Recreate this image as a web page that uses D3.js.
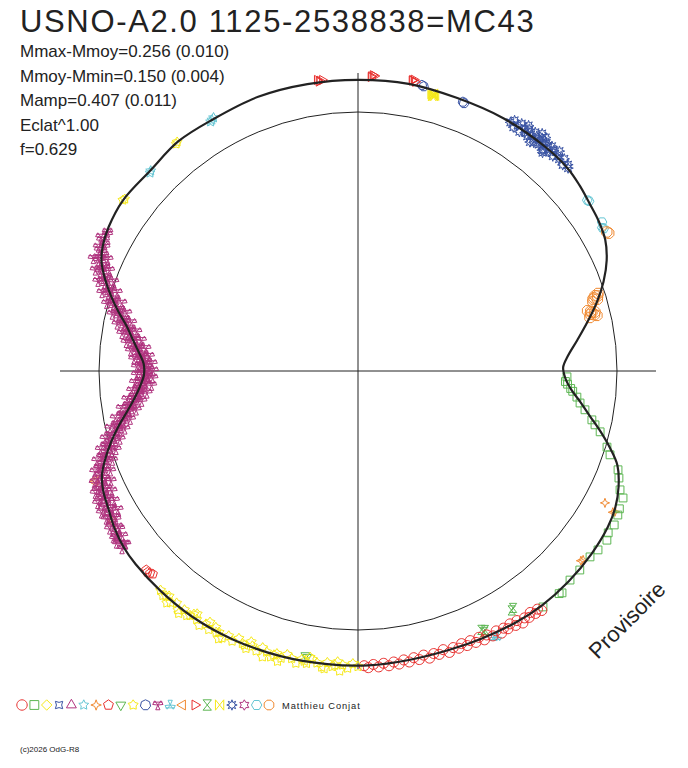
<!DOCTYPE html>
<html><head><meta charset="utf-8">
<script src="https://cdn.jsdelivr.net/npm/d3@7"></script>
<style>html,body{margin:0;padding:0;background:#fff}svg{display:block}</style>
</head><body>
<script>
// ---- DATA (phase in degrees, delta magnitude relative to mean; negative = brighter) ----
const title = "USNO-A2.0 1125-2538838=MC43";
const statLines = ["Mmax-Mmoy=0.256 (0.010)","Mmoy-Mmin=0.150 (0.004)","Mamp=0.407 (0.011)","Eclat^1.00","f=0.629"];
const author = "Matthieu Conjat";
const copyright = "(c)2026 OdG-R8";
const stamp = "Provisoire";
const palette = ["#e8302e","#5db653","#f6e91a","#3a54a4","#b0347f","#66c6d4","#f08a32"];

const fitCurve = [[0,-0.141],[10,-0.143],[20,-0.138],[30,-0.143],[40,-0.145],[46,-0.143],[50,-0.132],[54,-0.118],[58,-0.108],[62,-0.092],[66,-0.058],[70,-0.010],[74,0.047],[78,0.108],[82,0.165],[86,0.214],[89,0.236],[92,0.226],[95,0.197],[98,0.150],[101,0.100],[104,0.040],[107,-0.020],[110,-0.075],[114,-0.115],[118,-0.142],[122,-0.156],[128,-0.165],[135,-0.170],[142,-0.171],[148,-0.166],[155,-0.157],[162,-0.151],[170,-0.151],[178,-0.156],[186,-0.157],[195,-0.160],[205,-0.163],[214,-0.164],[222,-0.160],[229,-0.156],[233,-0.150],[237,-0.136],[241,-0.115],[245,-0.098],[248,-0.075],[251,-0.035],[254,0.010],[257,0.058],[260,0.107],[263,0.148],[266,0.178],[269,0.197],[272,0.195],[275,0.170],[278,0.138],[281,0.102],[284,0.052],[287,0.002],[290,-0.045],[293,-0.086],[296,-0.110],[300,-0.127],[306,-0.138],[314,-0.130],[322,-0.143],[330,-0.138],[340,-0.144],[350,-0.142]];

const redCircles = [[142.5,-0.188],[143,-0.172],[143.8,-0.182],[144.5,-0.165],[145.2,-0.180],[146,-0.170],[146.8,-0.185],[147.5,-0.162],[148.2,-0.177],[149,-0.158],[149.8,-0.172],[150.5,-0.160],[151.3,-0.175],[152,-0.155],[153,-0.168],[154,-0.152],[154.8,-0.167],[155.6,-0.147],[156.5,-0.162],[157.4,-0.145],[158.3,-0.160],[159.2,-0.143],[160,-0.158],[161,-0.147],[162,-0.162],[163,-0.142],[164,-0.157],[165,-0.147],[166,-0.162],[167,-0.143],[168,-0.158],[169,-0.145],[170,-0.160],[171,-0.147],[172,-0.162],[173,-0.150],[174,-0.164],[175,-0.151],[176,-0.165],[177,-0.153],[178,-0.166],[178.8,-0.157]];
const greenSquares = [[91.6,0.219],[92.9,0.225],[93.6,0.215],[94.7,0.200],[95.4,0.190],[96.8,0.169],[98.2,0.152],[99.7,0.126],[101.8,0.088],[102.8,0.070],[104.1,0.041],[107,-0.006],[108.4,-0.029],[110.8,-0.084],[112.3,-0.101],[114.4,-0.126],[115.6,-0.153],[117.8,-0.160],[119,-0.167],[121,-0.175],[122.9,-0.171],[124.2,-0.184],[126.7,-0.177],[128.7,-0.168],[131.9,-0.171],[134.6,-0.170],[137.4,-0.186],[137.9,-0.180],[141.9,-0.179]];
const orangeStars4 = [[118.1,-0.092],[118.7,-0.149],[119,-0.142],[130,-0.153],[130.4,-0.148]];
const redPentagons = [[225.8,-0.136],[226.3,-0.142],[225.3,-0.130],[226.8,-0.138]];
const greenTriDown = [[190.1,-0.138],[190.5,-0.132]];
const yellowStars = [[180,-0.160],[181,-0.148],[182,-0.168],[183,-0.155],[184,-0.143],[185,-0.165],[186,-0.150],[187,-0.172],[188,-0.157],[189,-0.145],[190,-0.166],[191,-0.152],[192,-0.174],[193,-0.158],[194,-0.146],[195,-0.168],[196,-0.154],[197,-0.175],[198,-0.160],[199,-0.148],[200,-0.170],[201,-0.156],[202,-0.176],[203,-0.162],[204,-0.148],[205,-0.171],[206,-0.157],[207,-0.178],[208,-0.162],[209,-0.150],[210,-0.173],[211,-0.159],[212,-0.179],[213,-0.163],[214,-0.151],[215,-0.173],[216,-0.159],[217,-0.176],[218,-0.156],[219,-0.170],[220,-0.153],[221,-0.168],[222,-0.158],[184.5,-0.158],[190.5,-0.158],[196.5,-0.163],[202.5,-0.165],[208.5,-0.168],[214.5,-0.165],[220.5,-0.161],
  [183.5,-0.182],[189.5,-0.137],[195.5,-0.185],[201.5,-0.141],[207.5,-0.188],[213.5,-0.142],[219.5,-0.182],[186.5,-0.178],[198.5,-0.186],[210.5,-0.143],[216.5,-0.186]];
const yellowStarsTop = [[321.7,-0.144],[321.3,-0.140],[306,-0.139],[306.4,-0.135]];
const blueHeptagons = [[12.6,-0.149],[13,-0.145],[21.3,-0.131],[21.6,-0.127]];
const magentaTrefoils = [[233,-0.160],[233.3,-0.135],[234,-0.150],[235,-0.125],[235.4,-0.160],[236,-0.145],[237,-0.120],[238,-0.140],[239,-0.105],[239.4,-0.135],[240,-0.125],[241,-0.100],[242,-0.125],[243,-0.090],[243.4,-0.115],[244,-0.105],[245,-0.080],[245.4,-0.110],[246,-0.095],[247,-0.070],[248,-0.085],[249,-0.050],[249.4,-0.075],[250,-0.055],[251,-0.020],[251.4,-0.045],[252,-0.025],[253,0.010],[253.4,-0.015],[254,0.005],[255,0.040],[255.4,0.015],[256,0.050],[257,0.045],[257.4,0.070],[258,0.080],[259,0.100],[259.4,0.080],[260,0.115],[261,0.110],[261.4,0.135],[262,0.145],[263,0.140],[263.4,0.165],[264,0.170],[265,0.165],[265.4,0.185],[266,0.180],[267,0.200],[267.4,0.180],[268,0.205],[269,0.190],[269.4,0.210],[270,0.200],[271,0.210],[271.4,0.188],[272,0.200],[273,0.180],[273.4,0.198],[274,0.185],[275,0.165],[276,0.170],[277,0.140],[278,0.150],[279,0.115],[280,0.125],[281,0.090],[282,0.095],[283,0.060],[284,0.065],[285,0.025],[286,0.030],[287,-0.010],[288,0.000],[289,-0.040],[290,-0.030],[291,-0.075],[292,-0.060],[293,-0.100],[294,-0.085],[295,-0.115],[296,-0.100],[297,-0.125],[298.5,-0.115],
  [233.5,-0.140],[234.5,-0.165],[235.5,-0.150],[236.5,-0.118],[237.5,-0.155],[238.5,-0.110],[239.5,-0.145],[240.5,-0.108],[241.5,-0.135],[242.5,-0.095],[243.5,-0.128],[244.5,-0.088],[245.5,-0.118],[246.5,-0.070],[247.5,-0.100],[248.5,-0.055],[249.5,-0.078],[250.5,-0.030],[251.5,-0.050],[252.5,0.000],[253.5,-0.020],[254.5,0.030],[255.5,0.010],[256.5,0.065],[257.5,0.050],[258.5,0.100],[259.5,0.085],[260.5,0.130],[261.5,0.115],[262.5,0.160],[263.5,0.145],[264.5,0.185],[265.5,0.168],[266.5,0.205],[267.5,0.178],[268.5,0.215],[269.5,0.185],[270.5,0.218],[271.5,0.180],[272.5,0.210],[273.5,0.170],[274.5,0.192],[275.5,0.150],[276.5,0.172],[277.5,0.128],[278.5,0.148],[279.5,0.105],[280.5,0.122],[281.5,0.078],[282.5,0.090],[283.5,0.045],[284.5,0.058],[285.5,0.012],[286.5,0.025],[287.5,-0.020],[288.5,-0.008],[289.5,-0.052],[290.5,-0.040],[291.5,-0.082],[292.5,-0.068],[293.5,-0.108],[294.5,-0.090],[295.5,-0.125],[296.5,-0.105],[297.5,-0.135],[299,-0.120],
  [240,-0.080],[241,-0.150],[242,-0.075],[243,-0.145],[244,-0.065],[245,-0.135],[246,-0.050],[247,-0.120],[248,-0.035],[249,-0.100],[250,-0.010],[251,-0.075],[252,0.020],[253,-0.045],[254,0.050],[255,-0.012],[256,0.082],[257,0.020],[258,0.115],[259,0.052],[260,0.148],[261,0.085],[262,0.178],[263,0.115],[264,0.205],[265,0.140],[266,0.228],[267,0.155],[268,0.235],[269,0.165],[270,0.238],[271,0.165],[272,0.232],[273,0.152],[274,0.218],[275,0.135],[276,0.200],[277,0.112],[278,0.176],[279,0.088],[280,0.150],[281,0.060],[282,0.120],[283,0.030],[284,0.090],[285,-0.005],[286,0.058],[287,-0.038],[288,0.025],[289,-0.070],[290,-0.005],[291,-0.098],[292,-0.040],[293,-0.125],[294,-0.065]];
const cyanTrefoils = [[152.4,-0.180],[153,-0.175]];
const orangeTriLeft = [[247.1,-0.116],[247.5,-0.110],[238.2,-0.129],[238.6,-0.124]];
const redTriRight = [[352.5,-0.148],[352,-0.153],[353,-0.150],[352.3,-0.145],[2.6,-0.158],[2.9,-0.163],[2.5,-0.155],[3.2,-0.160],[10.5,-0.160],[10.9,-0.165],[11.2,-0.157],[10.6,-0.162]];
const greenHourglass = [[153.9,-0.129],[154.5,-0.122],[154.2,-0.135],[146.8,-0.106],[147.3,-0.112]];
const yellowBowties = [[15.2,-0.120],[15.4,-0.115],[14.9,-0.122],[15.6,-0.118],[15.1,-0.113],[15.3,-0.125]];
const blueStars8 = [[31.5,-0.143],[32,-0.160],[32.5,-0.132],[33,-0.150],[33.5,-0.165],[34,-0.130],[34.5,-0.155],[35,-0.140],[35.4,-0.163],[35.8,-0.133],[36.2,-0.150],[36.6,-0.168],[37,-0.138],[37.3,-0.158],[37.6,-0.128],[38,-0.150],[38.3,-0.166],[38.6,-0.135],[39,-0.156],[39.3,-0.145],[39.6,-0.162],[40,-0.132],[40.4,-0.152],[40.8,-0.166],[41.2,-0.140],[41.6,-0.158],[42.2,-0.136],[42.8,-0.154],[43.5,-0.145],[44.2,-0.162],[44.8,-0.138],[45.5,-0.155],[46,-0.145],
  [34.8,-0.175],[36.9,-0.120],[38.8,-0.178],[40.2,-0.118],[42.5,-0.172],[37.8,-0.182],[39.8,-0.125]];
const cyanStars5 = [[329.8,-0.138],[330.3,-0.143],[329.4,-0.134],[313.6,-0.124],[314,-0.128]];
const cyanHexagons = [[53.3,-0.118],[53.7,-0.122],[58.6,-0.118],[59.6,-0.106],[59.9,-0.110]];
const orangeOctagons = [[60.8,-0.114],[61.2,-0.119],[72.4,0.045],[72.8,0.052],[73.3,0.040],[73,0.058],[72.6,0.035],[75.9,0.078],[76.3,0.087],[76.6,0.070],[75.6,0.082],[77,0.092],[76,0.065],[73.6,0.062],[72.1,0.030],[76.9,0.060],[75.3,0.095]];

// series: [symbolIndex, data, markerHalfSize]
const series = [
  [6, orangeStars4, 4.6],[15, greenHourglass, 4.6],[8, greenTriDown, 4.6],[12, cyanTrefoils, 4.6],
  [1, greenSquares, 4.6],[0, redCircles, 5],[9, yellowStars, 5.2],[7, redPentagons, 4.8],[13, orangeTriLeft, 4.8],
  [11, magentaTrefoils, 5.4],[17, blueStars8, 5.2],[10, blueHeptagons, 4.8],[16, yellowBowties, 4.8],
  [14, redTriRight, 4.8],[19, cyanHexagons, 4.8],[20, orangeOctagons, 5.6],[5, cyanStars5, 5.2],[9, yellowStarsTop, 5]
];

// ---- DRAWING ----
const W = 688, H = 768, cx = 358, cy = 371;
const svg = d3.select("body").append("svg").attr("width", W).attr("height", H);
const rScale = d3.scaleLinear().domain([0, -0.2]).range([259, 304.6]);
const aScale = d3.scaleLinear().domain([0, 360]).range([0, 2 * Math.PI]);
const font = "'Liberation Sans', Arial, sans-serif";
const ink = "#222";

function pt(a, r) { return [r * Math.sin(a), -r * Math.cos(a)]; }
function polyPts(n, s, rotDeg, inner) {
  const pts = [];
  const rot = rotDeg * Math.PI / 180;
  const m = inner ? n * 2 : n;
  for (let i = 0; i < m; i++) {
    const a = rot + i * 2 * Math.PI / m;
    const rr = inner ? (i % 2 ? inner : s) : s;
    pts.push(pt(a, rr));
  }
  return "M" + pts.map(p => p[0].toFixed(2) + "," + p[1].toFixed(2)).join("L") + "Z";
}
function wedges(dirs, s) {
  return dirs.map(d => {
    const a = d * Math.PI / 180, w = 0.42;
    const p1 = pt(a - w, s), p2 = pt(a + w, s);
    return `M0,0L${p1[0].toFixed(2)},${p1[1].toFixed(2)}L${p2[0].toFixed(2)},${p2[1].toFixed(2)}Z`;
  }).join("");
}
function symbolPath(k, s) {
  switch (k) {
    case 0: return polyPts(24, s, 0);
    case 1: { const h = s * 0.85; return `M${-h},${-h}L${h},${-h}L${h},${h}L${-h},${h}Z`; }
    case 2: return polyPts(4, s, 0);
    case 3: return polyPts(4, s, 45, s * 0.5);
    case 4: return polyPts(3, s * 1.1, 0);
    case 5: return polyPts(5, s, 0, s * 0.5);
    case 6: return polyPts(4, s, 0, s * 0.38);
    case 7: return polyPts(5, s, 0);
    case 8: return polyPts(3, s * 1.1, 180);
    case 9: return polyPts(5, s, 0, s * 0.6);
    case 10: return polyPts(7, s, 0);
    case 11: return wedges([-60, 60, 180], s) + `M${-s * 0.9},${-s * 0.55}L${s * 0.9},${-s * 0.55}`;
    case 12: return wedges([0, 120, 240], s) + `M${-s * 0.9},${s * 0.55}L${s * 0.9},${s * 0.55}`;
    case 13: return polyPts(3, s * 1.1, -90);
    case 14: return polyPts(3, s * 1.1, 90);
    case 15: return `M${-s * 0.8},${-s}L${s * 0.8},${-s}L${-s * 0.8},${s}L${s * 0.8},${s}Z`;
    case 16: return `M${-s * 0.8},${-s}L${s * 0.8},${s}L${s * 0.8},${-s}L${-s * 0.8},${s}Z`;
    case 17: return polyPts(8, s, 0, s * 0.5);
    case 18: return polyPts(6, s, 0, s * 0.58);
    case 19: return polyPts(6, s, 30);
    case 20: return polyPts(8, s, 22.5);
  }
}
const colorOf = k => palette[k % palette.length];

// title & stats
svg.append("text").attr("x", 20).attr("y", 32).attr("font-family", font).attr("font-size", 31)
  .attr("letter-spacing", 1.65).attr("fill", ink).text(title);
svg.selectAll("text.stat").data(statLines).enter().append("text").attr("class", "stat")
  .attr("x", 20).attr("y", (d, i) => 57 + i * 24.6).attr("font-family", font).attr("font-size", 17)
  .attr("fill", ink).text(d => d);

const g = svg.append("g").attr("transform", `translate(${cx},${cy})`);
const axisR = rScale(d3.min(fitCurve, d => d[1]));
g.append("line").attr("x1", -axisR).attr("x2", axisR).attr("y1", 0).attr("y2", 0).attr("stroke", ink).attr("stroke-width", 1);
g.append("line").attr("x1", 0).attr("x2", 0).attr("y1", -axisR).attr("y2", axisR).attr("stroke", ink).attr("stroke-width", 1);
g.append("circle").attr("r", rScale(0)).attr("fill", "none").attr("stroke", ink).attr("stroke-width", 1);

// observations
series.forEach(([k, data, s]) => {
  g.append("g").selectAll("path").data(data).enter().append("path")
    .attr("d", symbolPath(k, s))
    .attr("transform", d => { const p = pt(aScale(d[0]), rScale(d[1])); return `translate(${p[0]},${p[1]})`; })
    .attr("fill", "none").attr("stroke", colorOf(k)).attr("stroke-width", 1);
});

// fitted curve
const line = d3.lineRadial().angle(d => aScale(d[0])).radius(d => rScale(d[1])).curve(d3.curveCatmullRomClosed);
g.append("path").attr("d", line(fitCurve)).attr("fill", "none").attr("stroke", ink).attr("stroke-width", 2.2);

// legend
const legend = svg.append("g");
d3.range(21).forEach(k => {
  legend.append("path").attr("d", symbolPath(k, 5.2))
    .attr("transform", `translate(${22 + k * 12.35},705)`)
    .attr("fill", "none").attr("stroke", colorOf(k)).attr("stroke-width", 1);
});
svg.append("text").attr("x", 282).attr("y", 709).attr("font-family", font).attr("font-size", 9.3)
  .attr("letter-spacing", 0.9).attr("fill", ink).text(author);
svg.append("text").attr("x", 20).attr("y", 752).attr("font-family", font).attr("font-size", 8)
  .attr("fill", ink).text(copyright);
svg.append("text").attr("transform", "translate(627,620) rotate(-45)").attr("text-anchor", "middle")
  .attr("dominant-baseline", "central").attr("font-family", font).attr("font-size", 22).attr("fill", ink).text(stamp);
</script>
</body></html>
